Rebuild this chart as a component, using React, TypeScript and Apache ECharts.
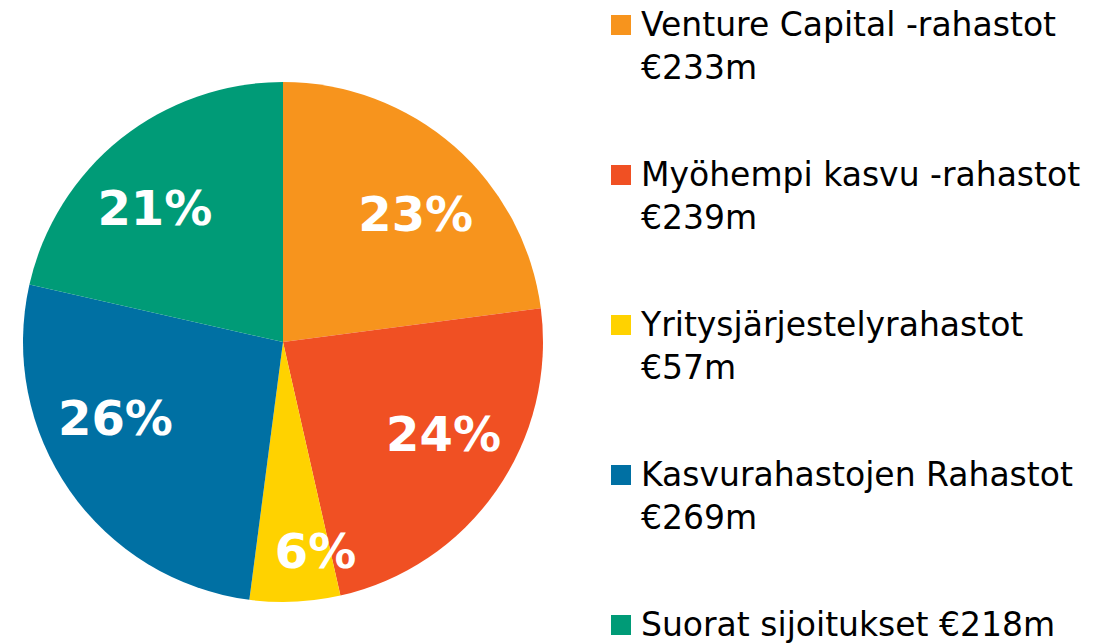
import React, { useEffect, useRef } from "react";
import * as echarts from "echarts";

const categories = [
  "Venture Capital -rahastot",
  "Myöhempi kasvu -rahastot",
  "Yritysjärjestelyrahastot",
  "Kasvurahastojen Rahastot",
  "Suorat sijoitukset",
];
const amounts = [233, 239, 57, 269, 218];
const percentLabels = ["23%", "24%", "6%", "26%", "21%"];
const colors = ["#F7941D", "#F05023", "#FFD200", "#0070A3", "#009B77"];

// label nudges (layout only)
const labelOffsets: [number, number][] = [
  [10, 12],
  [8, -14],
  [24, 23],
  [-15, -30],
  [-12, 11],
];

const FONT = "DejaVu Sans";
const LEGEND_FONT_SIZE = 33;
const LEGEND_MAX_WIDTH = 455;

function measure(text: string): number {
  const c = document.createElement("canvas").getContext("2d");
  if (!c) return text.length * 18;
  c.font = `${LEGEND_FONT_SIZE}px "${FONT}"`;
  return c.measureText(text).width;
}

export default function App() {
  const ref = useRef<HTMLDivElement>(null);
  useEffect(() => {
    if (!ref.current) return;
    const chart = echarts.init(ref.current, undefined, { renderer: "svg" });
    const cx = 283;
    const cy = 342;
    const R = 260;

    const graphic: any[] = [];
    categories.forEach((name, i) => {
      const top = 15 + 150 * i;
      const amountText = `€${amounts[i]}m`;
      const oneLine = `${name} ${amountText}`;
      const single = measure(oneLine) <= LEGEND_MAX_WIDTH;
      const text = single ? oneLine : `${name}\n${amountText}`;
      const lh = single ? 32 : 43;
      graphic.push({
        type: "rect",
        shape: { x: 611, y: top, width: 20, height: 20 },
        style: { fill: colors[i] },
      });
      graphic.push({
        type: "text",
        x: 641,
        y: top + 9 - lh / 2,
        style: {
          text,
          fontSize: LEGEND_FONT_SIZE,
          lineHeight: lh,
          fontFamily: FONT,
          fill: "#000",
          verticalAlign: "top",
          align: "left",
        },
      });
    });

    chart.setOption({
      animation: false,
      graphic,
      series: [
        {
          type: "pie",
          center: [cx, cy],
          radius: [0, R],
          startAngle: 90,
          clockwise: true,
          silent: true,
          label: { show: false },
          labelLine: { show: false },
          itemStyle: { borderWidth: 0 },
          data: categories.map((name, i) => ({
            name,
            value: amounts[i],
            itemStyle: { color: colors[i] },
          })),
        },
        {
          type: "pie",
          center: [cx, cy],
          radius: [106, R],
          startAngle: 90,
          clockwise: true,
          silent: true,
          z: 5,
          labelLine: { show: false },
          itemStyle: { color: "rgba(0,0,0,0)", borderWidth: 0 },
          label: {
            show: true,
            position: "inside",
            color: "#fff",
            fontSize: 48,
            fontWeight: "bold",
            fontFamily: FONT,
          },
          data: categories.map((name, i) => ({
            name,
            value: amounts[i],
            label: { formatter: percentLabels[i], offset: labelOffsets[i] },
          })),
        },
      ],
    });
    return () => chart.dispose();
  }, []);
  return (
    <div
      ref={ref}
      style={{ position: "fixed", left: 0, top: 0, width: 1102, height: 643, background: "#fff" }}
    />
  );
}
